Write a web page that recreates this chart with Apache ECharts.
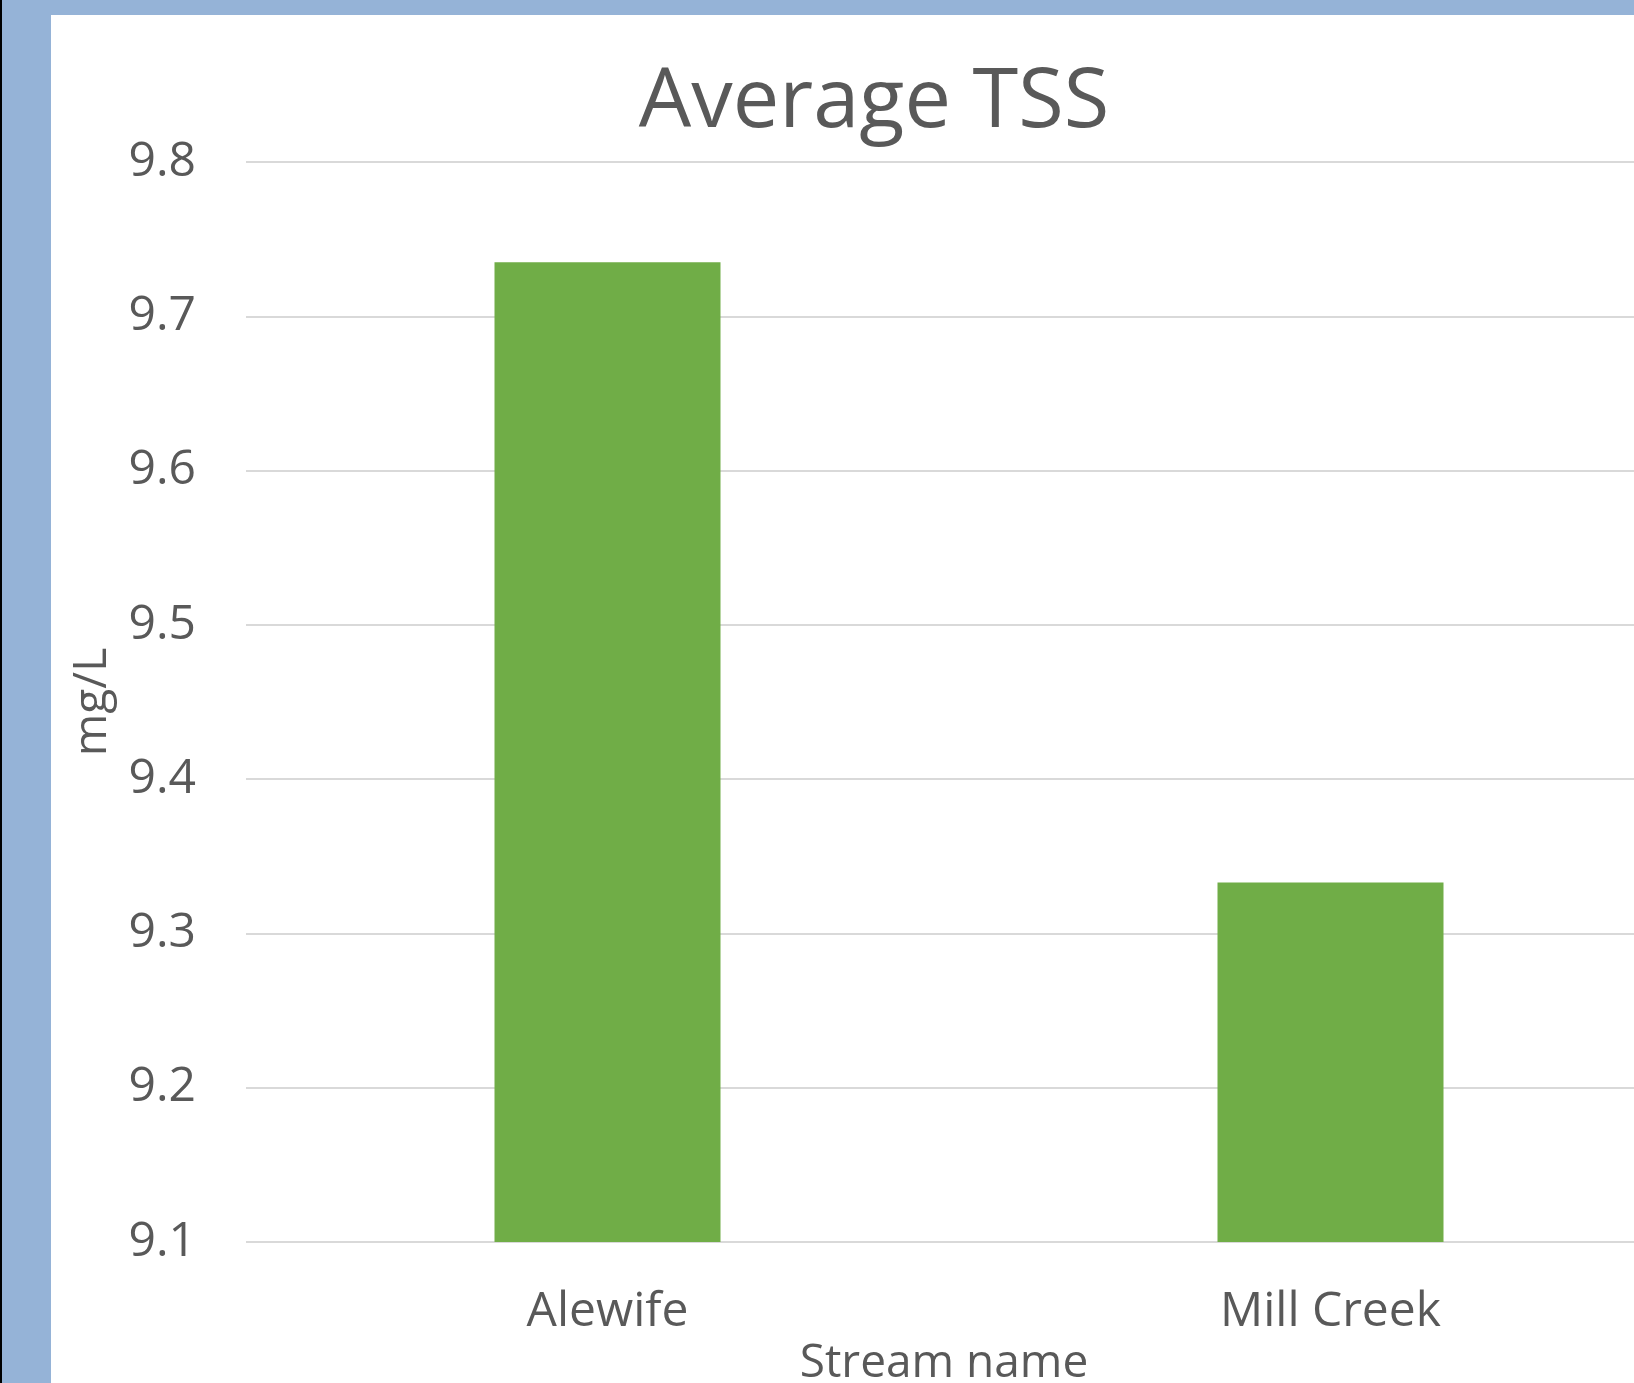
<!DOCTYPE html>
<html>
<head>
<meta charset="utf-8">
<script src="https://cdn.jsdelivr.net/npm/echarts@6/dist/echarts.min.js"></script>
<style>
html,body{margin:0;padding:0;width:1634px;height:1383px;overflow:hidden;background:#95b3d7;}
#edge{position:absolute;left:0;top:0;width:2px;height:1383px;background:#000;}
#chart{position:absolute;left:51px;top:15px;width:1583px;height:1368px;background:#fff;}
</style>
</head>
<body>
<div id="edge"></div>
<div id="chart"></div>
<script>
const categories = ['Alewife', 'Mill Creek'];
const tssValues = [9.735, 9.333];
const yTicks = ['9.1', '9.2', '9.3', '9.4', '9.5', '9.6', '9.7', '9.8'];

const chart = echarts.init(document.getElementById('chart'));
const font = '"Open Sans", sans-serif';
chart.setOption({
  animation: false,
  title: {
    text: 'Average TSS',
    left: 818, top: 42, textAlign: 'center',
    textStyle: { fontFamily: font, fontSize: 83, fontWeight: 'normal', color: '#595959' }
  },
  grid: { left: 195, top: 147, width: 1446, height: 1080, containLabel: false, outerBoundsMode: 'none' },
  xAxis: {
    type: 'category',
    data: categories,
    name: 'Stream name',
    nameLocation: 'middle',
    nameGap: 98,
    nameTextStyle: { fontFamily: font, fontSize: 46, color: '#595959', padding: [0, 50, 0, 0] },
    axisLine: { show: false },
    axisTick: { show: false },
    axisLabel: { fontFamily: font, fontSize: 48, color: '#595959', margin: 46 }
  },
  yAxis: {
    type: 'value',
    min: 9.1, max: 9.8, interval: 0.1,
    name: 'mg/L',
    nameLocation: 'middle',
    nameGap: 130,
    nameTextStyle: { fontFamily: font, fontSize: 46, color: '#595959' },
    axisLine: { show: false },
    axisTick: { show: false },
    axisLabel: {
      fontFamily: font, fontSize: 48, color: '#595959', margin: 50,
      formatter: function (v) { const s = v.toFixed(1); return yTicks.indexOf(s) >= 0 ? s : ''; }
    },
    splitLine: { lineStyle: { color: '#d9d9d9', width: 2 } }
  },
  series: [{
    type: 'bar',
    data: tssValues,
    barWidth: 226,
    itemStyle: { color: '#70ad47' }
  }]
});
</script>
</body>
</html>
